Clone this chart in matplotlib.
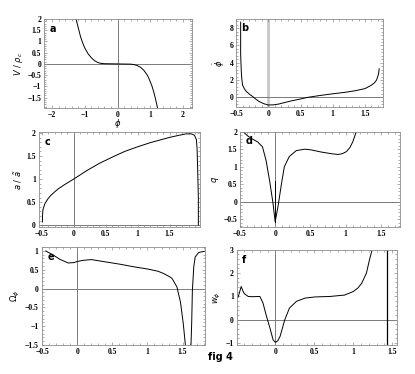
import matplotlib
matplotlib.use("Agg")
import matplotlib.pyplot as plt
from matplotlib.ticker import MultipleLocator, FuncFormatter

# panel a: V / rho_c against phi
phi_a = [-1.27, -1.2, -1.13, -1.07, -1.0, -0.9, -0.8, -0.7, -0.6, -0.5, -0.4, 0.0,
         0.4, 0.5, 0.6, 0.7, 0.8, 0.9, 0.95, 1.0, 1.05, 1.1, 1.15, 1.2, 1.22]
V_a = [2.0, 1.6, 1.2, 0.95, 0.7, 0.45, 0.27, 0.14, 0.06, 0.02, 0.01, 0.0,
       -0.01, -0.03, -0.07, -0.15, -0.28, -0.48, -0.62, -0.8, -0.98, -1.22, -1.5, -1.82, -1.97]

# panel b: phi dot against phi
phi_b = [-0.43, -0.43, -0.42, -0.41, -0.40, -0.37, -0.34, -0.29, -0.24, -0.19, -0.14, -0.07,
         0.0, 0.08, 0.16, 0.26, 0.37, 0.5, 0.62, 0.8, 1.0, 1.2, 1.35, 1.5, 1.6, 1.65, 1.68, 1.71, 1.72]
phidot_b = [8.7, 5.0, 3.0, 2.0, 1.4, 0.95, 0.66, 0.33, 0.07, -0.25, -0.51, -0.75,
            -0.9, -0.88, -0.79, -0.6, -0.4, -0.2, 0.0, 0.2, 0.4, 0.58, 0.76, 1.0, 1.4, 1.7, 2.0, 2.7, 3.3]

# panel c: a / a~ against phi
phi_c = [-0.49, -0.49, -0.48, -0.45, -0.41, -0.37, -0.3, -0.24, -0.12, 0.0, 0.2, 0.4, 0.64,
         0.8, 1.0, 1.2, 1.49, 1.65, 1.76, 1.84, 1.89, 1.92, 1.93, 1.94, 1.95, 1.95]
a_c = [0.07, 0.2, 0.35, 0.47, 0.56, 0.63, 0.72, 0.79, 0.9, 1.0, 1.18, 1.34, 1.5,
       1.6, 1.7, 1.79, 1.9, 1.95, 1.98, 1.98, 1.95, 1.85, 1.66, 1.2, 0.6, 0.0]

# panel d: q against phi
phi_d = [-0.44, -0.39, -0.34, -0.25, -0.18, -0.13, -0.08, -0.03, 0.0, 0.04, 0.09, 0.13,
         0.2, 0.3, 0.42, 0.51, 0.65, 0.8, 0.89, 0.95, 1.01, 1.06, 1.1, 1.15]
q_d = [1.97, 1.88, 1.81, 1.71, 1.57, 1.19, 0.62, -0.05, -0.57, -0.14, 0.52, 1.0,
       1.29, 1.46, 1.5, 1.48, 1.42, 1.37, 1.35, 1.37, 1.43, 1.55, 1.71, 2.0]
spike_d = [-0.57, 0.6]

# panel e: Omega_phi against phi (two branches)
phi_e1 = [-0.45, -0.35, -0.25, -0.13, -0.05, 0.0, 0.08, 0.2, 0.4, 0.6, 0.8, 1.0,
          1.15, 1.23, 1.3, 1.35, 1.42, 1.47, 1.51, 1.54]
Om_e1 = [1.0, 0.9, 0.78, 0.68, 0.69, 0.72, 0.75, 0.77, 0.71, 0.65, 0.58, 0.52,
         0.46, 0.4, 0.33, 0.27, 0.04, -0.36, -0.93, -1.5]
phi_e2 = [1.62, 1.63, 1.64, 1.66, 1.68, 1.73, 1.81]
Om_e2 = [-1.5, -0.93, -0.05, 0.58, 0.84, 0.96, 0.99]

# panel f: w_phi against phi
phi_f = [-0.48, -0.46, -0.44, -0.42, -0.4, -0.35, -0.3, -0.2, -0.16, -0.12, -0.07, -0.03,
         0.0, 0.03, 0.06, 0.12, 0.18, 0.27, 0.38, 0.51, 0.7, 0.89, 1.0, 1.06, 1.11, 1.17, 1.21, 1.24]
w_f = [0.97, 1.2, 1.43, 1.25, 1.12, 1.0, 0.99, 1.0, 0.72, 0.21, -0.36, -0.86,
       -0.97, -0.9, -0.71, 0.0, 0.5, 0.79, 0.93, 0.98, 1.0, 1.06, 1.21, 1.36, 1.57, 2.0, 2.58, 2.96]
wall_f = 1.44

frame_col = '#8c8c8c'
axis_col = '#7a7a7a'
tick_font = {'family': 'Liberation Serif', 'weight': 'bold', 'size': 5.5}
lw = 0.7


def fmt(v, pos):
    s = '%g' % round(v, 3)
    return s.replace('-', '\u2212')


def style(ax, xlim, ylim, xmaj, ymaj, label, ylab):
    ax.set_xlim(*xlim)
    ax.set_ylim(*ylim)
    ax.xaxis.set_major_locator(MultipleLocator(xmaj))
    ax.xaxis.set_minor_locator(MultipleLocator(xmaj / 5))
    ax.yaxis.set_major_locator(MultipleLocator(ymaj))
    ax.yaxis.set_minor_locator(MultipleLocator(ymaj / 5))
    ax.xaxis.set_major_formatter(FuncFormatter(fmt))
    ax.yaxis.set_major_formatter(FuncFormatter(fmt))
    ax.tick_params(which='both', direction='in', top=True, right=True, color=frame_col,
                   width=0.5, pad=2)
    ax.tick_params(which='major', length=2.5)
    ax.tick_params(which='minor', length=1.2)
    for lab in ax.get_xticklabels() + ax.get_yticklabels():
        lab.set_fontproperties(tick_font)
    for sp in ax.spines.values():
        sp.set_color(frame_col)
        sp.set_linewidth(0.6)
    ax.axhline(0, color=axis_col, lw=0.7, zorder=1)
    ax.text(0.035, 0.95, label, transform=ax.transAxes, ha='left', va='top',
            fontsize=7, fontweight='bold', family='DejaVu Sans')
    ax.set_ylabel(ylab, fontsize=6, labelpad=2, family='DejaVu Serif')


fig = plt.figure(figsize=(4.15, 3.74), dpi=100)

ax_a = fig.add_axes([0.106, 0.711, 0.357, 0.238])
ax_a.axvline(0, color=axis_col, lw=0.7, zorder=1)
ax_a.plot(phi_a, V_a, color='black', lw=lw)
style(ax_a, (-2.25, 2.28), (-1.97, 2.0), 1, 0.5, 'a', r'$V\ /\ \rho_c$')
ax_a.set_xlabel(r'$\phi$', fontsize=6, labelpad=-1)

ax_b = fig.add_axes([0.569, 0.713, 0.354, 0.237])
ax_b.axvline(0, color='#c8c8c8', lw=2.0, zorder=1)
ax_b.plot(phi_b, phidot_b, color='black', lw=lw)
style(ax_b, (-0.5, 1.78), (-1.17, 9.1), 0.5, 2, 'b', r'$\dot{\phi}$')

ax_c = fig.add_axes([0.093, 0.393, 0.388, 0.254])
ax_c.axvline(0, color=axis_col, lw=0.7, zorder=1)
ax_c.plot(phi_c, a_c, color='black', lw=lw)
style(ax_c, (-0.55, 1.97), (-0.04, 2.02), 0.5, 0.5, 'c', r'$a\ /\ \tilde{a}$')

ax_d = fig.add_axes([0.578, 0.392, 0.386, 0.256])
ax_d.axvline(0, color=axis_col, lw=0.7, zorder=1)
ax_d.plot(phi_d, q_d, color='black', lw=lw)
ax_d.plot([0, 0], spike_d, color='black', lw=lw)
style(ax_d, (-0.5, 1.77), (-0.73, 2.0), 0.5, 0.5, 'd', r'$q$')

ax_e = fig.add_axes([0.100, 0.078, 0.394, 0.261])
ax_e.axvline(0, color=axis_col, lw=0.7, zorder=1)
ax_e.plot(phi_e1, Om_e1, color='black', lw=lw)
ax_e.plot(phi_e2, Om_e2, color='black', lw=lw)
style(ax_e, (-0.51, 1.82), (-1.5, 1.1), 0.5, 0.5, 'e', r'$\Omega_\phi$')

ax_f = fig.add_axes([0.570, 0.077, 0.386, 0.255])
ax_f.axvline(0, color=axis_col, lw=0.7, zorder=1)
ax_f.axvline(wall_f, color='black', lw=0.9)
ax_f.plot(phi_f, w_f, color='black', lw=lw)
style(ax_f, (-0.5, 1.56), (-1.09, 3.0), 0.5, 1, 'f', r'$w_\phi$')
ax_f.set_xticks([0, 0.5, 1, 1.5])
for lab in ax_f.get_xticklabels():
    lab.set_fontproperties(tick_font)

fig.text(0.53, 0.045, 'fig 4', fontsize=7, fontweight='bold', family='DejaVu Sans',
         ha='center', va='center')

fig.savefig('out.png', dpi=100)
